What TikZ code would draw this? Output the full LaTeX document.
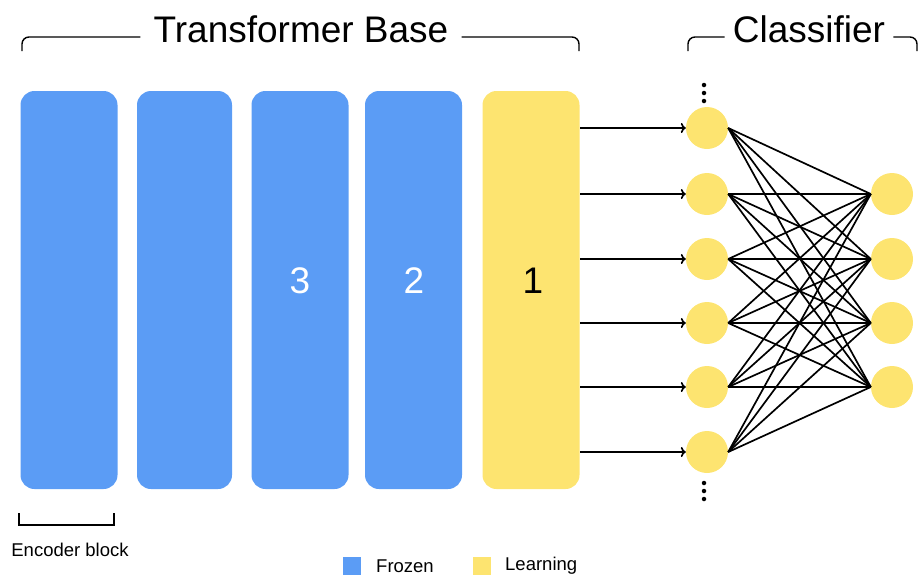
\documentclass[tikz,border=0pt]{standalone}
\usepackage{fontspec}
\setmainfont{Liberation Sans}
\usetikzlibrary{arrows.meta}
\definecolor{frozen}{HTML}{5B9CF5}
\definecolor{learn}{HTML}{FDE470}
\tikzset{
  block/.style={rounded corners=14pt, minimum width=97pt, minimum height=398pt, inner sep=0pt, draw=none},
  neuron/.style={circle, fill=learn, minimum size=42pt, inner sep=0pt},
  wire/.style={line width=1.7pt, black},
  feed/.style={line width=1.7pt, -{To[length=5pt,width=10pt]}},
  bracket/.style={line width=1.4pt, rounded corners=7pt},
  big/.style={font=\fontsize{37}{40}\selectfont},
  small/.style={font=\fontsize{18.5}{21}\selectfont},
  dot/.style={circle, fill=black, inner sep=0pt, minimum size=4.5pt}
}
\begin{document}
\begin{tikzpicture}[x=1pt,y=-1pt]
\useasboundingbox (0,0) rectangle (919,576);

% encoder blocks
\node[block, fill=frozen] (b5) at (69,290) {};
\node[block, fill=frozen, minimum width=95pt] (b4) at (184.5,290) {};
\node[block, fill=frozen] (b3) at (300,290) {};
\node[block, fill=frozen] (b2) at (413.5,290) {};
\node[block, fill=learn] (b1) at (531,290) {};
\node[big, text=white] (n3) at (300,281) {3};
\node[big, text=white] (n2) at (414,281) {2};
\node[big, text=black] (n1) at (533,281) {1};

% top labels with brackets
\node[big, inner xsep=13pt] (tb) at (301,29) {Transformer Base};
\node[big, inner xsep=8pt] (cl) at (809,29) {Classifier};
\draw[bracket] (22,51) |- (tb.west |- 0,37);
\draw[bracket] (tb.east |- 0,37) -| (579,51);
\draw[bracket] (688,51) |- (cl.west |- 0,37);
\draw[bracket] (cl.east |- 0,37) -| (917,51);

% classifier layers
\foreach \i/\y in {1/128,2/194,3/259,4/323,5/387,6/452}{
  \node[neuron] (in\i) at (707,\y) {};
  \coordinate (src\i) at (580,\y);
  \draw[feed] (src\i) -- (in\i.west);
}
\foreach \j/\y in {1/194,2/259,3/323,4/387}{
  \node[neuron] (out\j) at (892,\y) {};
}
\foreach \i in {1,...,6}{
  \foreach \j in {1,...,4}{
    \draw[wire] (in\i.east) -- (out\j.west);
  }
}

% ellipses above and below the input layer
\foreach \k/\y in {a/85,b/93,c/101}{
  \node[dot] (top\k) at (704,\y) {};
}
\foreach \k/\y in {a/483,b/491,c/499}{
  \node[dot] (bot\k) at (704,\y) {};
}

% encoder block brace
\draw[line width=1.4pt] (19,513) |- (114,525) -- (114,513);
\node[small] (enc) at (70,550) {Encoder block};

% legend
\node[fill=frozen, minimum size=18pt, inner sep=0pt] (lgf) at (352,566) {};
\node[small, anchor=west, inner xsep=0pt] (lgft) at (376,566) {Frozen};
\node[fill=learn, minimum size=18pt, inner sep=0pt] (lgl) at (482,566) {};
\node[small, anchor=west, inner xsep=0pt] (lglt) at (505,566) {Learning};
\end{tikzpicture}
\end{document}
